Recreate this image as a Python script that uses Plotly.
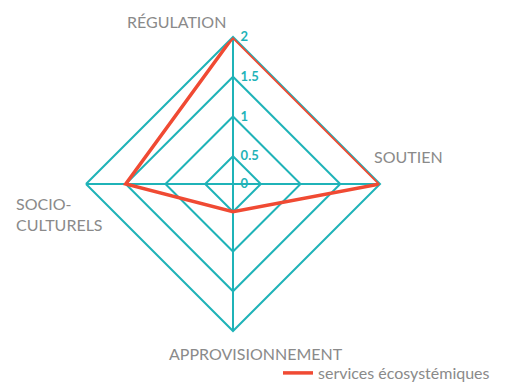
import plotly.graph_objects as go

# catégories de services et valeurs
categories = ['RÉGULATION', 'SOUTIEN', 'APPROVISIONNEMENT', 'SOCIO-CULTURELS']
valeurs = [2, 2, 0.5, 1.5]
tick_vals = [0.15, 0.5, 1, 1.5, 2]
tick_text = ['0', '0.5', '1', '1.5', '2']
serie_nom = 'services écosystémiques'

teal = '#1fb3b8'
rouge = '#f04a33'
gris = '#8a8a8a'

# la page html ajoute une marge de 8 px : figure plus petite d'autant
W, H, OFF = 503, 382, 8


def fx(x):
    return (x - OFF) / W


def fy(y):
    return 1 - (y - OFF) / H


fig = go.Figure()
fig.add_trace(go.Scatterpolar(
    r=valeurs + valeurs[:1],
    theta=categories + categories[:1],
    mode='lines',
    line=dict(color=rouge, width=3.5),
    name=serie_nom,
))

# étiquettes des axes (annotations, pour les placer comme l'original)
labels = [
    dict(text='RÉGULATION', x=228, y=22, xanchor='right', align='right'),
    dict(text='SOUTIEN', x=372, y=157, xanchor='left', align='left'),
    dict(text='APPROVISIONNEMENT', x=256, y=353, xanchor='center', align='center'),
    dict(text='SOCIO-<br>CULTURELS', x=14, y=214, xanchor='left', align='left'),
]
for lab in labels:
    fig.add_annotation(
        text=lab['text'], x=fx(lab['x']), y=fy(lab['y']),
        xref='paper', yref='paper', xanchor=lab['xanchor'], yanchor='middle',
        align=lab['align'], showarrow=False,
        font=dict(family='Lato', size=16, color=gris),
    )

fig.update_layout(
    width=W, height=H,
    margin=dict(l=0, r=0, t=0, b=0),
    paper_bgcolor='white',
    showlegend=True,
    legend=dict(x=fx(278), y=0, xanchor='left', yanchor='bottom',
                font=dict(family='Lato', size=16, color=gris),
                bgcolor='rgba(0,0,0,0)'),
    polar=dict(
        domain=dict(x=[fx(86), fx(380)], y=[fy(331), fy(37)]),
        bgcolor='white',
        gridshape='linear',
        angularaxis=dict(
            rotation=90, direction='clockwise',
            showticklabels=False, ticks='',
            linecolor=teal, linewidth=2,
            gridcolor=teal, gridwidth=2,
            layer='below traces',
        ),
        radialaxis=dict(
            range=[0.15, 2], angle=90,
            tickvals=tick_vals, ticktext=tick_text,
            tickfont=dict(family='Lato', size=13, color=teal, weight='bold'),
            ticks='outside', ticklen=4, tickcolor='rgba(0,0,0,0)',
            showline=True, linecolor=teal, linewidth=2,
            gridcolor=teal, gridwidth=2,
            tickangle=90,
            layer='below traces',
        ),
    ),
)

fig.write_html('out.html')
